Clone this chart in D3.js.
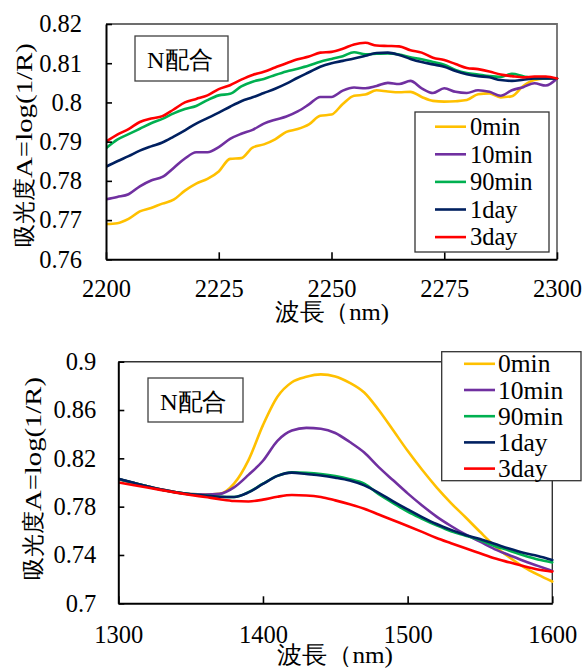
<!DOCTYPE html>
<html>
<head>
<meta charset="utf-8">
<script src="https://cdn.jsdelivr.net/npm/d3@7"></script>
</head>
<body style="margin:0">
<svg id="chart" width="585" height="668" font-family="Liberation Serif"></svg>
<script>
// ---- series ----
const seriesNames  = ["0min", "10min", "90min", "1day", "3day"];
const seriesColors = ["#FFC000", "#7030A0", "#00B050", "#002060", "#FF0000"];

// ---- upper panel: 2200–2300 nm ----
const wavelengthsA = [2200, 2202.5, 2205, 2207.5, 2210, 2212.5, 2215, 2217.5, 2220, 2222.5,
  2225, 2227.5, 2230, 2232.5, 2235, 2237.5, 2240, 2242.5, 2245, 2247.5,
  2250, 2252.5, 2255, 2257.5, 2260, 2262.5, 2265, 2267.5, 2270, 2272.5,
  2275, 2277.5, 2280, 2282.5, 2285, 2287.5, 2290, 2292.5, 2295, 2297.5, 2300];
const absA_0min = [0.7690, 0.7692, 0.7703, 0.7722, 0.7731, 0.7742, 0.7752, 0.7775, 0.7793, 0.7805,
  0.7824, 0.7856, 0.7858, 0.7885, 0.7893, 0.7906, 0.7925, 0.7932, 0.7944, 0.7966,
  0.7969, 0.7996, 0.8017, 0.8020, 0.8031, 0.8028, 0.8026, 0.8027, 0.8014, 0.8004,
  0.8002, 0.8003, 0.8006, 0.8021, 0.8023, 0.8013, 0.8016, 0.8042, 0.8057, 0.8061, 0.8061];
const absA_10min = [0.7753, 0.7759, 0.7766, 0.7786, 0.7801, 0.7810, 0.7833, 0.7857, 0.7873, 0.7873,
  0.7886, 0.7907, 0.7920, 0.7930, 0.7946, 0.7956, 0.7964, 0.7977, 0.7995, 0.8014,
  0.8014, 0.8030, 0.8038, 0.8036, 0.8042, 0.8050, 0.8047, 0.8055, 0.8036, 0.8024,
  0.8036, 0.8027, 0.8024, 0.8031, 0.8027, 0.8017, 0.8031, 0.8039, 0.8049, 0.8043, 0.8061];
const absA_90min = [0.7883, 0.7905, 0.7919, 0.7933, 0.7947, 0.7958, 0.7972, 0.7983, 0.7991, 0.8006,
  0.8018, 0.8022, 0.8041, 0.8053, 0.8060, 0.8070, 0.8079, 0.8086, 0.8094, 0.8104,
  0.8111, 0.8118, 0.8128, 0.8123, 0.8124, 0.8125, 0.8122, 0.8115, 0.8110, 0.8103,
  0.8096, 0.8083, 0.8075, 0.8071, 0.8067, 0.8065, 0.8073, 0.8067, 0.8061, 0.8061, 0.8061];
const absA_1day = [0.7836, 0.7850, 0.7863, 0.7877, 0.7888, 0.7898, 0.7913, 0.7929, 0.7946, 0.7960,
  0.7974, 0.7989, 0.8003, 0.8013, 0.8024, 0.8035, 0.8048, 0.8063, 0.8077, 0.8091,
  0.8100, 0.8106, 0.8112, 0.8119, 0.8126, 0.8127, 0.8121, 0.8111, 0.8103, 0.8097,
  0.8091, 0.8080, 0.8072, 0.8067, 0.8064, 0.8057, 0.8055, 0.8058, 0.8061, 0.8061, 0.8061];
const absA_3day = [0.7900, 0.7918, 0.7932, 0.7950, 0.7959, 0.7965, 0.7982, 0.8000, 0.8009, 0.8018,
  0.8034, 0.8044, 0.8058, 0.8070, 0.8078, 0.8089, 0.8100, 0.8110, 0.8117, 0.8127,
  0.8129, 0.8137, 0.8148, 0.8152, 0.8145, 0.8144, 0.8143, 0.8133, 0.8127, 0.8114,
  0.8108, 0.8098, 0.8088, 0.8085, 0.8079, 0.8071, 0.8067, 0.8064, 0.8066, 0.8066, 0.8061];
const xTicksA = [2200, 2225, 2250, 2275, 2300];
const yTicksA = [0.76, 0.77, 0.78, 0.79, 0.80, 0.81, 0.82];
const yTickLabelsA = ["0.76", "0.77", "0.78", "0.79", "0.8", "0.81", "0.82"];

// ---- lower panel: 1300–1600 nm ----
const wavelengthsB = [1300, 1310, 1320, 1330, 1340, 1350, 1360, 1370, 1380, 1390,
  1400, 1410, 1420, 1430, 1440, 1450, 1460, 1470, 1480, 1490,
  1500, 1510, 1520, 1530, 1540, 1550, 1560, 1570, 1580, 1590, 1600];
const absB_0min = [0.8029, 0.7998, 0.7968, 0.7942, 0.7920, 0.7905, 0.7901, 0.7906, 0.7990, 0.8185,
  0.8475, 0.8710, 0.8830, 0.8875, 0.8895, 0.8878, 0.8825, 0.8745, 0.8600, 0.8432,
  0.8262, 0.8105, 0.7960, 0.7830, 0.7712, 0.7592, 0.7477, 0.7383, 0.7302, 0.7237, 0.7180];
const absB_10min = [0.8029, 0.7998, 0.7968, 0.7942, 0.7920, 0.7905, 0.7901, 0.7906, 0.7960, 0.8063,
  0.8180, 0.8345, 0.8430, 0.8452, 0.8445, 0.8410, 0.8335, 0.8248, 0.8127, 0.8018,
  0.7910, 0.7810, 0.7718, 0.7640, 0.7570, 0.7510, 0.7449, 0.7400, 0.7352, 0.7310, 0.7268];
const absB_90min = [0.8029, 0.7998, 0.7968, 0.7940, 0.7918, 0.7902, 0.7893, 0.7882, 0.7880, 0.7920,
  0.7990, 0.8055, 0.8084, 0.8080, 0.8070, 0.8053, 0.8027, 0.7990, 0.7903, 0.7830,
  0.7759, 0.7700, 0.7645, 0.7596, 0.7560, 0.7524, 0.7475, 0.7438, 0.7397, 0.7362, 0.7339];
const absB_1day = [0.8032, 0.8000, 0.7969, 0.7941, 0.7918, 0.7902, 0.7893, 0.7882, 0.7880, 0.7918,
  0.7988, 0.8055, 0.8082, 0.8070, 0.8058, 0.8040, 0.8016, 0.7976, 0.7915, 0.7844,
  0.7777, 0.7714, 0.7656, 0.7608, 0.7566, 0.7532, 0.7493, 0.7453, 0.7418, 0.7392, 0.7359];
const absB_3day = [0.8000, 0.7979, 0.7958, 0.7937, 0.7916, 0.7897, 0.7880, 0.7862, 0.7847, 0.7843,
  0.7858, 0.7882, 0.7896, 0.7893, 0.7880, 0.7852, 0.7820, 0.7783, 0.7735, 0.7687,
  0.7640, 0.7591, 0.7540, 0.7497, 0.7455, 0.7414, 0.7373, 0.7340, 0.7308, 0.7280, 0.7262];
const xTicksB = [1300, 1400, 1500, 1600];
const yTicksB = [0.70, 0.74, 0.78, 0.82, 0.86, 0.90];
const yTickLabelsB = ["0.7", "0.74", "0.78", "0.82", "0.86", "0.9"];

// ---- shared texts ----
const sampleLabel = "N配合";
const xTitleText = "波長（nm)";
const yTitleParts = ["吸光度", "A=log(1/R)"];

const svg = d3.select("#chart");

function drawPanel(p) {
  const x = d3.scaleLinear().domain(p.xDomain).range([p.left, p.right]);
  const y = d3.scaleLinear().domain(p.yDomain).range([p.bottom, p.top]);
  const g = svg.append("g");

  // plot-area border (top and right edges)
  g.append("path")
    .attr("d", `M${p.left},${p.top}H${p.right}V${p.bottom}`)
    .attr("fill", "none")
    .attr("stroke", p.frameColor)
    .attr("stroke-width", p.frameWidth);

  const clipId = "clip-" + p.id;
  svg.append("clipPath").attr("id", clipId)
    .append("rect")
    .attr("x", p.left).attr("y", p.top - 2)
    .attr("width", p.right - p.left + 2).attr("height", p.bottom - p.top + 2);

  // spectra
  const line = d3.line()
    .x((d, i) => x(p.wavelengths[i]))
    .y(d => y(d))
    .curve(d3.curveMonotoneX);
  const lines = g.append("g").attr("clip-path", `url(#${clipId})`);
  p.series.forEach((vals, i) => {
    lines.append("path")
      .attr("d", line(vals))
      .attr("fill", "none")
      .attr("stroke", seriesColors[i])
      .attr("stroke-width", 2.6)
      .attr("stroke-linejoin", "round")
      .attr("stroke-linecap", "round");
  });

  // axes
  const yAxis = d3.axisLeft(y)
    .tickValues(p.yTicks)
    .tickFormat((d, i) => p.yTickLabels[i])
    .tickSizeInner(-6).tickSizeOuter(0).tickPadding(p.yPad);
  const xAxis = d3.axisBottom(x)
    .tickValues(p.xTicks)
    .tickFormat(d3.format("d"))
    .tickSizeInner(-7).tickSizeOuter(0).tickPadding(p.xPad);

  const ya = g.append("g").attr("transform", `translate(${p.left},0)`).call(yAxis);
  const xa = g.append("g").attr("transform", `translate(0,${p.bottom})`).call(xAxis);
  [ya, xa].forEach(a => {
    a.attr("font-size", p.tickFont).attr("font-family", "Liberation Serif");
    a.select(".domain").attr("stroke", "#000").attr("stroke-width", 2);
    a.selectAll(".tick line").attr("stroke", "#000").attr("stroke-width", 1.6);
    a.selectAll(".tick text").attr("fill", "#000").attr("font-family", "Liberation Serif");
  });

  // sample label box
  g.append("rect")
    .attr("x", p.tag.x).attr("y", p.tag.y)
    .attr("width", p.tag.w).attr("height", p.tag.h)
    .attr("fill", "#fff").attr("stroke", "#404040").attr("stroke-width", 1.3);
  g.append("text")
    .attr("x", p.tag.tx).attr("y", p.tag.ty)
    .attr("font-family", "Liberation Serif")
    .attr("font-size", 24)
    .attr("textLength", p.tag.len).attr("lengthAdjust", "spacingAndGlyphs")
    .text(sampleLabel);

  // legend
  const L = p.legend;
  const lg = g.append("g");
  lg.append("rect")
    .attr("x", L.x).attr("y", L.y).attr("width", L.w).attr("height", L.h)
    .attr("fill", "#fff").attr("stroke", "#333").attr("stroke-width", 1.3);
  seriesNames.forEach((name, i) => {
    const cy = L.row0 + i * L.step;
    lg.append("line")
      .attr("x1", L.lx0).attr("x2", L.lx1).attr("y1", cy).attr("y2", cy)
      .attr("stroke", seriesColors[i]).attr("stroke-width", 2.6);
    lg.append("text")
      .attr("x", L.tx).attr("y", cy).attr("dy", "0.34em")
      .attr("font-family", "Liberation Serif")
      .attr("font-size", L.font)
      .text(name);
  });

  // x title
  g.append("text")
    .attr("x", p.xTitle.x).attr("y", p.xTitle.y)
    .attr("font-family", "Liberation Serif")
    .attr("font-size", 24)
    .attr("textLength", p.xTitle.len).attr("lengthAdjust", "spacingAndGlyphs")
    .text(xTitleText);

  // y title (rotated, reads bottom-to-top)
  const yt = g.append("text")
    .attr("transform", `translate(${p.yTitle.x},${p.yTitle.y}) rotate(-90)`)
    .attr("font-family", "Liberation Serif")
    .attr("font-size", 23);
  yt.append("tspan").attr("x", 0).attr("textLength", p.yTitle.len1)
    .attr("lengthAdjust", "spacingAndGlyphs").text(yTitleParts[0]);
  yt.append("tspan").attr("x", p.yTitle.len1).attr("textLength", p.yTitle.len2)
    .attr("lengthAdjust", "spacingAndGlyphs").text(yTitleParts[1]);
}

drawPanel({
  id: "a",
  left: 106, right: 557, top: 24, bottom: 259.3,
  xDomain: [2200, 2300], yDomain: [0.76, 0.82],
  wavelengths: wavelengthsA,
  series: [absA_0min, absA_10min, absA_90min, absA_1day, absA_3day],
  xTicks: xTicksA, yTicks: yTicksA, yTickLabels: yTickLabelsA,
  yPad: 24, xPad: 20, tickFont: 24.5,
  frameColor: "#6d6d6d", frameWidth: 1.8,
  tag: { x: 135, y: 36, w: 93, h: 45, tx: 147, ty: 67.5, len: 66 },
  legend: { x: 415, y: 112, w: 134, h: 140, row0: 126.7, step: 27.6,
            lx0: 435, lx1: 466, tx: 470, font: 24.5 },
  xTitle: { x: 275, y: 319.5, len: 114 },
  yTitle: { x: 32, y: 247, len1: 69, len2: 135 }
});

drawPanel({
  id: "b",
  left: 118.3, right: 552.3, top: 361.7, bottom: 603.3,
  xDomain: [1300, 1600], yDomain: [0.70, 0.90],
  wavelengths: wavelengthsB,
  series: [absB_0min, absB_10min, absB_90min, absB_1day, absB_3day],
  xTicks: xTicksB, yTicks: yTicksB, yTickLabels: yTickLabelsB,
  yPad: 22, xPad: 22, tickFont: 24.5,
  frameColor: "#333", frameWidth: 1.4,
  tag: { x: 148, y: 378, w: 95, h: 44, tx: 160, ty: 409.5, len: 67 },
  legend: { x: 441.7, y: 351.7, w: 139.3, h: 129, row0: 363.8, step: 26.2,
            lx0: 464, lx1: 495, tx: 498, font: 25.5 },
  xTitle: { x: 277, y: 662.5, len: 116 },
  yTitle: { x: 40.5, y: 580, len1: 69, len2: 134 }
});
</script>
</body>
</html>
